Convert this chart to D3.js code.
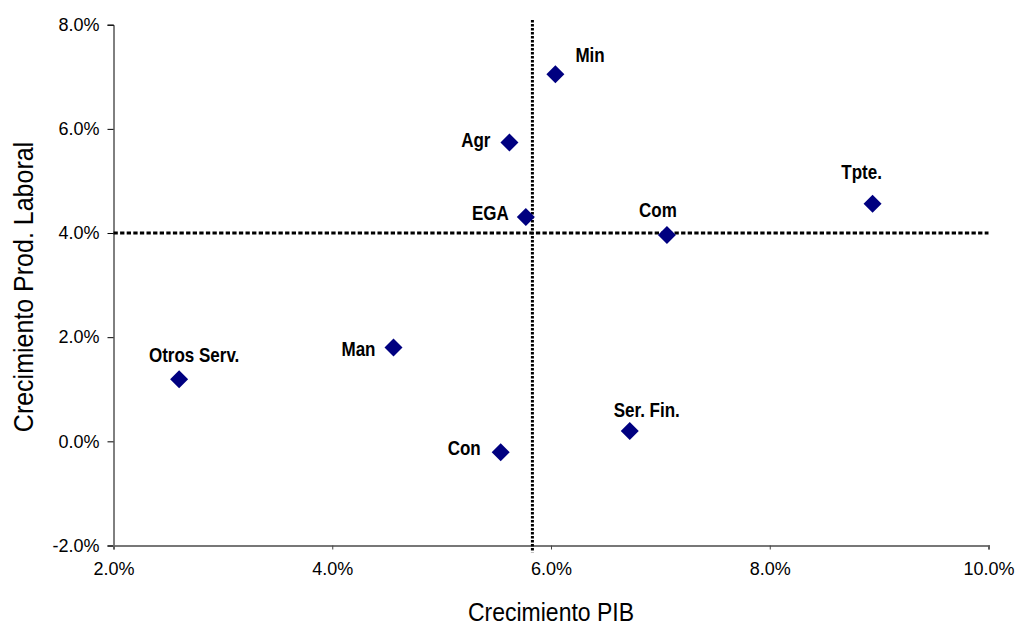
<!DOCTYPE html>
<html><head><meta charset="utf-8">
<script src="https://cdn.jsdelivr.net/npm/d3@7"></script>
<style>body{margin:0;background:#fff}svg{display:block}</style>
</head><body>
<script>
// ---- data ----
const sectors = ["Min","Agr","EGA","Com","Tpte.","Man","Otros Serv.","Con","Ser. Fin."];
const gdpGrowth = [6.04,5.62,5.77,7.06,8.94,4.56,2.60,5.54,6.72];
const prodGrowth = [7.05,5.74,4.31,3.96,4.56,1.80,1.19,-0.21,0.20];
const xTicks = [2,4,6,8,10];
const yTicks = [-2,0,2,4,6,8];
const refX = 5.83;            // vertical reference (average GDP growth)
const refXExtent = [-2.13, 8.09];
const refY = 4.0;             // horizontal reference (average productivity growth)
const refYExtent = [2, 10];

// ---- layout ----
const labelOffsets = [[20,-12,"start"],[-19,5,"end"],[-17,3,"end"],[-9,-18,"middle"],[-11,-25,"middle"],[-18,8,"end"],[15,-17,"middle"],[-20,3,"end"],[17,-14,"middle"]];
const W = 1016, H = 626;
const svg = d3.select("body").append("svg").attr("width",W).attr("height",H);
const x = d3.scaleLinear().domain([2,10]).range([113.5,988.5]);
const y = d3.scaleLinear().domain([-2,8]).range([545.5,24.7]);
const fmt = d => d.toFixed(1) + "%";
const font = "Liberation Sans, Arial, sans-serif";

// y axis
const ya = svg.append("g").attr("transform",`translate(${x(2)},0)`)
  .call(d3.axisLeft(y).tickValues(yTicks).tickFormat(fmt).tickSize(6).tickPadding(8));
ya.select(".domain").attr("stroke","#000").attr("stroke-width",1);
ya.selectAll(".tick line").attr("stroke","#000");
ya.selectAll("text").attr("font-family",font).attr("font-size",18).attr("fill","#000");

// x axis
const xa = svg.append("g").attr("transform",`translate(0,${y(-2)})`)
  .call(d3.axisBottom(x).tickValues(xTicks).tickFormat(fmt).tickSize(4).tickPadding(13));
xa.select(".domain").attr("stroke","#777").attr("stroke-width",2);
xa.selectAll(".tick line").attr("stroke","#444");
xa.selectAll("text").attr("font-family",font).attr("font-size",18).attr("fill","#000");

// reference lines
svg.append("line")
  .attr("x1",x(refX)).attr("x2",x(refX)).attr("y1",y(refXExtent[1])).attr("y2",y(refXExtent[0]))
  .attr("stroke","#000").attr("stroke-width",3).attr("stroke-dasharray","2.5,1.5");
svg.append("line")
  .attr("x1",x(refYExtent[0])).attr("x2",x(refYExtent[1])).attr("y1",y(refY)).attr("y2",y(refY))
  .attr("stroke","#000").attr("stroke-width",3).attr("stroke-dasharray","4.3,2.3");

// points
const pts = sectors.map((s,i)=>({s, gx:gdpGrowth[i], py:prodGrowth[i], off:labelOffsets[i]}));
svg.append("g").selectAll("path").data(pts).join("path")
  .attr("d", d3.symbol(d3.symbolSquare, 162))
  .attr("transform", d=>`translate(${x(d.gx)},${y(d.py)}) rotate(45)`)
  .attr("fill","#000080");

// labels
svg.append("g").selectAll("text").data(pts).join("text")
  .attr("transform", d=>`translate(${x(d.gx)+d.off[0]},${y(d.py)+d.off[1]}) scale(1,1.16)`)
  .attr("text-anchor", d=>d.off[2])
  .attr("font-family",font).attr("font-weight","bold").attr("font-size",17)
  .attr("fill","#000").text(d=>d.s);

// axis titles
svg.append("text")
  .attr("transform",`translate(${x(6)},621) scale(1,1.14)`)
  .attr("text-anchor","middle").attr("font-family",font).attr("font-size",23)
  .attr("fill","#000").text("Crecimiento PIB");
svg.append("text")
  .attr("transform",`translate(33,287) rotate(-90) scale(1,1.14)`)
  .attr("text-anchor","middle").attr("font-family",font).attr("font-size",25)
  .attr("fill","#000").text("Crecimiento Prod. Laboral");
</script>
</body></html>
